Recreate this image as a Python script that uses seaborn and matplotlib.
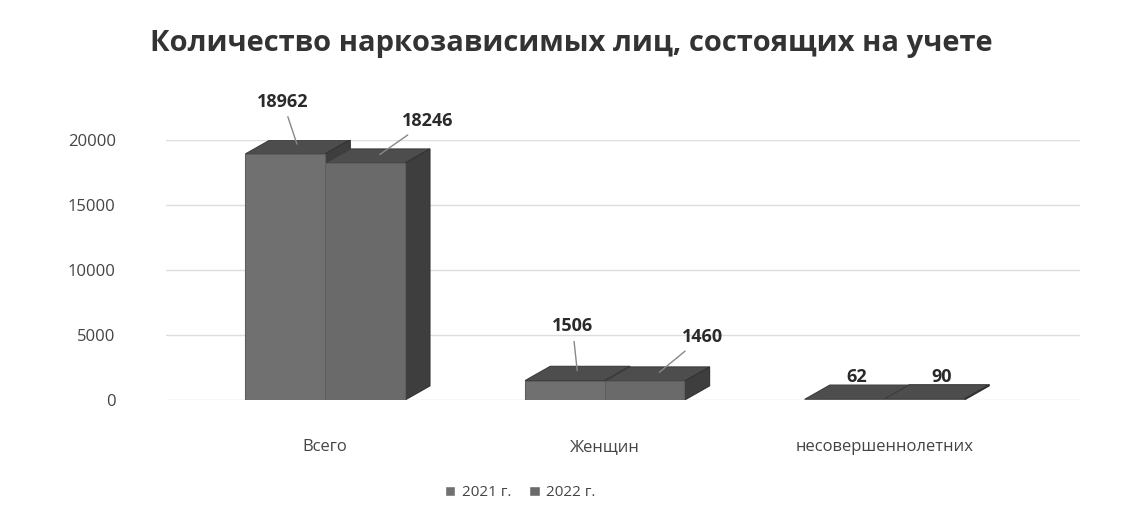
import numpy as np
import pandas as pd
import matplotlib
matplotlib.use('Agg')
import matplotlib.pyplot as plt
from matplotlib.patches import Polygon
import seaborn as sns

# данные
categories = ['Всего', 'Женщин', 'несовершеннолетних']
years = ['2021 г.', '2022 г.']
values_2021 = [18962, 1506, 62]
values_2022 = [18246, 1460, 90]

df = pd.DataFrame({
    'cat': categories * 2,
    'year': [years[0]] * 3 + [years[1]] * 3,
    'val': values_2021 + values_2022,
})

sns.set_theme(style='white')
plt.rcParams['font.family'] = ['Open Sans', 'DejaVu Sans']

fig = plt.figure(figsize=(11.43, 5.30), dpi=100)
ax = fig.add_axes([0.145, 0.245, 0.80, 0.49])

front = ['#707070', '#6a6a6a']
ax = sns.barplot(data=df, x='cat', y='val', hue='year', palette=front,
                 width=0.57, ax=ax, legend=False, zorder=3)
for cont in ax.containers:
    for bar in cont:
        bar.set_edgecolor('#5e5e5e')
        bar.set_linewidth(0.8)

# псевдо-3D: верх и боковая грань
dx, dy = 0.09, 1100
for i, cont in enumerate(ax.containers):
    for bar in cont:
        x0, w, h = bar.get_x(), bar.get_width(), bar.get_height()
        top = Polygon([(x0, h), (x0 + w, h), (x0 + w + dx, h + dy), (x0 + dx, h + dy)],
                      closed=True, fc='#4d4d4d', ec='#3d3d3d', lw=0.8, zorder=2)
        side = Polygon([(x0 + w, 0), (x0 + w + dx, dy), (x0 + w + dx, h + dy), (x0 + w, h)],
                       closed=True, fc='#3e3e3e', ec='#333333', lw=0.8, zorder=2)
        ax.add_patch(top)
        ax.add_patch(side)

# подписи значений
offsets = [[(-15, 36), (-5, 38), (0, 6)], [(50, 26), (45, 28), (5, 6)]]
for i, cont in enumerate(ax.containers):
    for j, bar in enumerate(cont):
        h = bar.get_height()
        xc = bar.get_x() + bar.get_width() / 2 + dx / 2
        ox, oy = offsets[i][j]
        lead = dict(arrowstyle='-', color='#888888', lw=1) if j < 2 else None
        ax.annotate(f'{int(h)}', xy=(xc, h + dy / 2), xytext=(ox, oy),
                    textcoords='offset pixels', ha='center', va='bottom',
                    fontsize=13, fontweight='bold', color='#2a2a2a',
                    arrowprops=lead, zorder=5)

ax.set_ylim(0, 20000)
ax.set_xlim(-0.57, 2.7)
ax.set_yticks([0, 5000, 10000, 15000, 20000])
ax.yaxis.grid(True, color='#dddddd', lw=1)
ax.set_axisbelow(True)
ax.tick_params(axis='y', labelsize=12, labelcolor='#444444', pad=30)
ax.tick_params(axis='x', labelsize=12, labelcolor='#444444', pad=22)
ax.set_xlabel('')
ax.set_ylabel('')
sns.despine(ax=ax, left=True, bottom=True)

fig.suptitle('Количество наркозависимых лиц, состоящих на учете',
             fontsize=21, fontweight='bold', color='#333333', y=0.945)

handles = [plt.Rectangle((0, 0), 1, 1, fc=c) for c in front]
fig.legend(handles, years, loc='center', bbox_to_anchor=(0.455, 0.07), ncol=2,
           frameon=False, fontsize=11, handlelength=0.7, handleheight=0.7,
           columnspacing=1.2, handletextpad=0.4, labelcolor='#444444')

fig.savefig('out.png', dpi=100, facecolor='white')
